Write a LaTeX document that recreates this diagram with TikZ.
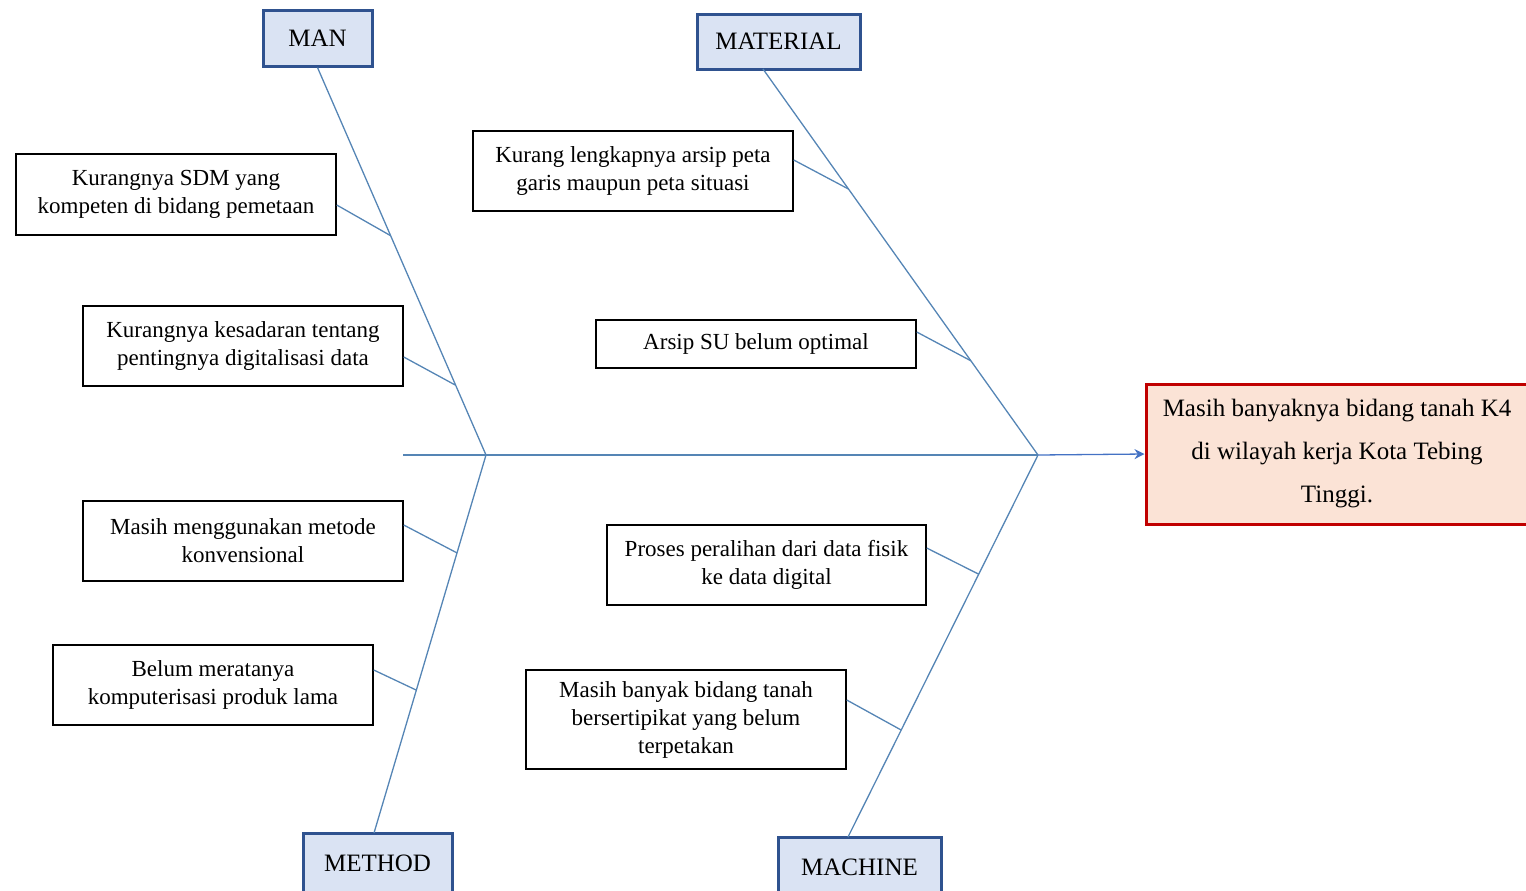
\documentclass[tikz,border=0pt]{standalone}
\usepackage{fontspec}
\setmainfont{Liberation Serif}
\usetikzlibrary{calc,arrows.meta}
\definecolor{bonecol}{HTML}{5585B5}
\definecolor{arrowcol}{HTML}{4472C4}
\definecolor{catfill}{HTML}{DAE3F3}
\definecolor{catdraw}{HTML}{2F528F}
\definecolor{efffill}{HTML}{FBE3D6}
\definecolor{effdraw}{HTML}{C00000}
\tikzset{
  causebox/.style={draw=black, line width=0.75pt, fill=white, align=center,
    font=\fontsize{11.5}{14}\selectfont, inner sep=0pt},
  catbox/.style={draw=catdraw, line width=1.5pt, fill=catfill, align=center,
    font=\fontsize{12.5}{15}\selectfont, inner sep=0pt},
  effbox/.style={draw=effdraw, line width=1.5pt, fill=efffill, align=center,
    font=\fontsize{12.5}{21.5}\selectfont, inner sep=0pt},
  bone/.style={draw=bonecol, line width=0.65pt},
  spine/.style={draw=bonecol, line width=0.65pt},
}
\begin{document}
\begin{tikzpicture}[x=0.5pt,y=-0.5pt]
\useasboundingbox (0,0) rectangle (1526,890);
% category boxes
\node[catbox, minimum width=54.5pt, minimum height=28pt] (man) at (317.5,38) {MAN};
\node[catbox, minimum width=81.5pt, minimum height=27.5pt] (mat) at (778.5,41.5) {MATERIAL};
\node[catbox, minimum width=74.5pt, minimum height=30pt] (met) at (377.5,863) {METHOD};
\node[catbox, minimum width=81.5pt, minimum height=30pt] (mac) at (859.5,867) {MACHINE};
% effect
\node[effbox, minimum width=191pt, minimum height=70pt] (eff) at (1337,454)
  {Masih banyaknya bidang tanah K4\\di wilayah kerja Kota Tebing\\Tinggi.};
% cause boxes
\node[causebox, minimum width=160pt, minimum height=40.5pt] (c1) at (176,194.5)
  {Kurangnya SDM yang\\kompeten di bidang pemetaan};
\node[causebox, minimum width=160pt, minimum height=40pt] (c2) at (243,346)
  {Kurangnya kesadaran tentang\\pentingnya digitalisasi data};
\node[causebox, minimum width=160pt, minimum height=40pt] (c3) at (243,541)
  {Masih menggunakan metode\\konvensional};
\node[causebox, minimum width=160pt, minimum height=40pt] (c4) at (213,685)
  {Belum meratanya\\komputerisasi produk lama};
\node[causebox, minimum width=160pt, minimum height=40pt] (c5) at (633,171)
  {Kurang lengkapnya arsip peta\\garis maupun peta situasi};
\node[causebox, minimum width=160pt, minimum height=24pt] (c6) at (756,344)
  {Arsip SU belum optimal};
\node[causebox, minimum width=159.5pt, minimum height=40pt] (c7) at (766.5,565)
  {Proses peralihan dari data fisik\\ke data digital};
\node[causebox, minimum width=160pt, minimum height=49.5pt] (c8) at (686,719.5)
  {Masih banyak bidang tanah\\bersertipikat yang belum\\terpetakan};
% junction coordinates
\coordinate (j1) at (486,455);
\coordinate (j2) at (1038,455);
\coordinate (spst) at (403,455);
\coordinate (matb) at (763,69);
\coordinate (metb) at (374,833);
\coordinate (macb) at (848,837);
% spine
\draw[spine] (spst) -- (j2);
\draw[draw=arrowcol, line width=0.65pt, -{Stealth[length=5pt,width=5pt]}] (j2) -- (eff.west);
% bones
\draw[bone] (man.south) -- (j1);
\draw[bone] (j1) -- (metb);
\draw[bone] (matb) -- (j2);
\draw[bone] (j2) -- (macb);
% sub-bones
\draw[bone] (c1.east |- 0,205) -- ($(man.south)!0.434!(j1)$);
\draw[bone] (c2.east |- 0,357) -- ($(man.south)!0.820!(j1)$);
\draw[bone] (c3.east |- 0,525) -- ($(j1)!0.259!(metb)$);
\draw[bone] (c4.east |- 0,670) -- ($(j1)!0.622!(metb)$);
\draw[bone] (c5.east |- 0,160) -- ($(matb)!0.311!(j2)$);
\draw[bone] (c6.east |- 0,332) -- ($(matb)!0.756!(j2)$);
\draw[bone] (c7.east |- 0,548) -- ($(j2)!0.312!(macb)$);
\draw[bone] (c8.east |- 0,700) -- ($(j2)!0.720!(macb)$);
\end{tikzpicture}
\end{document}
